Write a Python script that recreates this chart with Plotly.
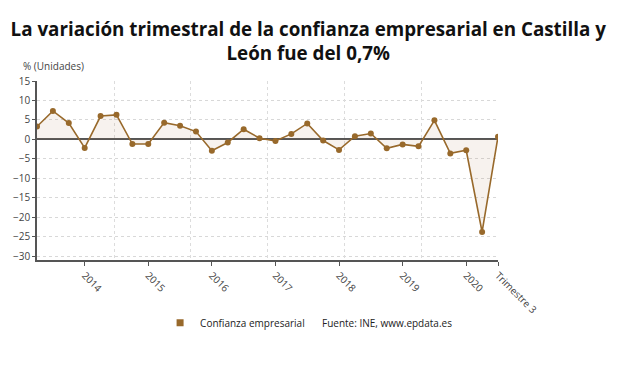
import plotly.graph_objects as go

quarters = list(range(30))
values = [3.3, 7.3, 4.2, -2.2, 6.0, 6.3, -1.2, -1.2, 4.3, 3.5, 2.0, -2.9, -0.8, 2.6, 0.3,
          -0.4, 1.4, 4.1, -0.3, -2.7, 0.8, 1.5, -2.3, -1.3, -1.8, 4.9, -3.6, -2.8, -23.8, 0.7]
tick_pos = [3, 7, 11, 15, 19, 23, 27, 29]
tick_labels = ["2014", "2015", "2016", "2017", "2018", "2019", "2020", "Trimestre 3"]
grid_pos = [29 - k * 4.83 for k in range(6)]

line_color = "#98692b"
font = "Open Sans"

fig = go.Figure()
fig.add_trace(go.Scatter(
    x=quarters, y=values, mode="lines+markers",
    line=dict(color=line_color, width=1.6),
    marker=dict(color=line_color, size=6),
    fill="tozeroy", fillcolor="rgba(185,140,100,0.11)",
    showlegend=False, hoverinfo="y"))
fig.add_trace(go.Scatter(x=[None], y=[None], mode="markers",
                         marker=dict(color=line_color, symbol="square", size=7),
                         name="Confianza empresarial", showlegend=True))
fig.add_trace(go.Scatter(x=[None], y=[None], xaxis="x2", showlegend=False))

fig.update_layout(
    width=632, height=368,
    margin=dict(l=29, r=142, t=73, b=116, autoexpand=False),
    paper_bgcolor="white", plot_bgcolor="white",
    font=dict(family=font, size=10, color="#444"),
    title=dict(text="<b>La variación trimestral de la confianza empresarial en Castilla y<br>León fue del 0,7%</b>",
               x=0.475, xanchor="center", y=0.925, yanchor="middle",
               font=dict(family=font, size=18.8, color="#111")),
    xaxis=dict(range=[0, 29], tickmode="array", tickvals=tick_pos, ticktext=tick_labels,
               tickangle=45, showgrid=False, zeroline=False, automargin=False,
               showline=True, linecolor="#555", linewidth=1.5,
               ticks="outside", ticklen=4, tickcolor="#555",
               tickfont=dict(size=10, color="#444")),
    xaxis2=dict(range=[0, 29], overlaying="x", tickmode="array", tickvals=grid_pos,
                showticklabels=False, showgrid=True, gridcolor="#dcdcdc", griddash="dot",
                zeroline=False, showline=False, automargin=False),
    yaxis=dict(range=[-31, 15], tickmode="array", tickvals=list(range(-30, 16, 5)),
               showgrid=True, gridcolor="#d8d8d8", griddash="dot", automargin=False,
               zeroline=True, zerolinecolor="#555", zerolinewidth=1.5,
               showline=True, linecolor="#555", linewidth=1.5,
               ticks="outside", ticklen=3, tickcolor="#555",
               tickfont=dict(size=10, color="#444")),
    legend=dict(orientation="h", x=0.267, xanchor="left", y=-0.35, yanchor="middle",
                font=dict(size=10, color="#222"), itemwidth=30),
    annotations=[
        dict(text="% (Unidades)", xref="paper", yref="paper", x=-0.035, y=1.085,
             xanchor="left", yanchor="middle", showarrow=False,
             font=dict(size=10, color="#444")),
        dict(text="Fuente: INE, www.epdata.es", xref="paper", yref="paper", x=0.614, y=-0.35,
             xanchor="left", yanchor="middle", showarrow=False,
             font=dict(size=10, color="#222")),
    ],
)
fig.write_html("out.html")
